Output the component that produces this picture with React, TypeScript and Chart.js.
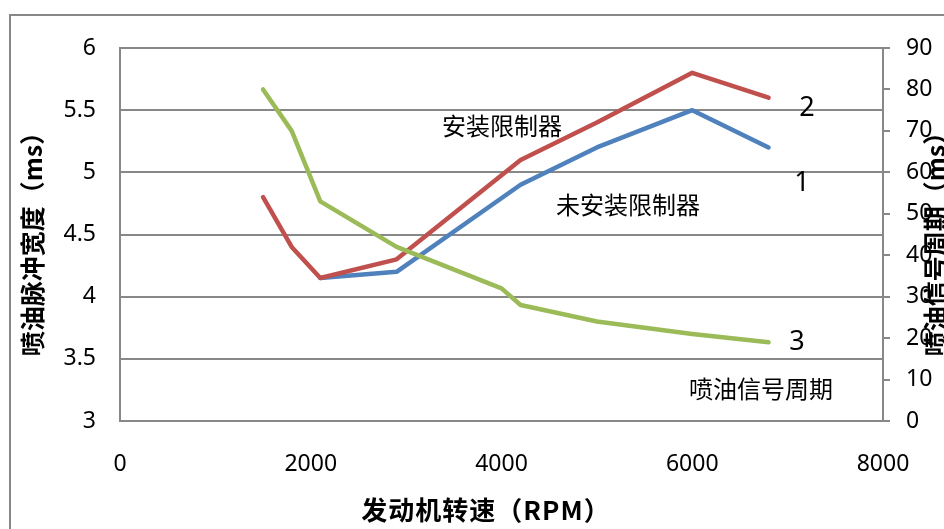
import React, { useEffect, useRef } from "react";
import { Chart, registerables } from "chart.js";

Chart.register(...registerables);

// Series 2: 安装限制器 (left axis, ms)
const withLimiterRpm = [1500, 1800, 2100, 2900, 4200, 5000, 6000, 6800];
const withLimiterMs = [4.8, 4.4, 4.15, 4.3, 5.1, 5.4, 5.8, 5.6];
// Series 1: 未安装限制器 (left axis, ms)
const noLimiterRpm = [2100, 2900, 4200, 5000, 6000, 6800];
const noLimiterMs = [4.15, 4.2, 4.9, 5.2, 5.5, 5.2];
// Series 3: 喷油信号周期 (right axis, ms)
const periodRpm = [1500, 1800, 2100, 2900, 4000, 4200, 5000, 6000, 6800];
const periodMs = [80, 70, 53, 42, 32, 28, 24, 21, 19];

const xTitle = "发动机转速（RPM）";
const yTitle = "喷油脉冲宽度（ms）";
const y1Title = "喷油信号周期（ms）";
const labelWith = "安装限制器";
const labelWithout = "未安装限制器";
const labelPeriod = "喷油信号周期";

const GRAY = "#888888";
const TICK_FONT = { family: "'Noto Sans', 'Noto Sans CJK SC', sans-serif", size: 23 };
const CJK = "'Noto Sans CJK SC', 'Noto Sans', sans-serif";

const toPts = (xs: number[], ys: number[]) => xs.map((x, i) => ({ x, y: ys[i] }));

const overlay = {
  id: "overlay",
  afterDraw(chart: any) {
    const ctx = chart.ctx as any;
    ctx.save();
    // outer frame
    ctx.strokeStyle = GRAY;
    ctx.lineWidth = 2;
    ctx.beginPath();
    ctx.moveTo(10, 529);
    ctx.lineTo(10, 15);
    ctx.lineTo(944, 15);
    ctx.stroke();

    ctx.fillStyle = "#000";
    ctx.textAlign = "center";
    ctx.textBaseline = "middle";
    // x title
    ctx.font = `bold 26px ${CJK}`;
    ctx.letterSpacing = "1px";
    ctx.fillText(xTitle, 486, 510);
    ctx.letterSpacing = "0px";
    // left title
    const midY = 238;
    ctx.font = `bold 25px ${CJK}`;
    ctx.save();
    ctx.translate(32, midY);
    ctx.rotate(-Math.PI / 2);
    ctx.fillText(yTitle, 0, 0);
    ctx.restore();
    // right title
    ctx.save();
    ctx.translate(935, midY);
    ctx.rotate(-Math.PI / 2);
    ctx.fillText(y1Title, 0, 0);
    ctx.restore();

    // annotations
    ctx.font = `24px ${CJK}`;
    ctx.fillText(labelWith, 502, 126);
    ctx.fillText(labelWithout, 628, 205);
    ctx.fillText(labelPeriod, 761, 389);
    ctx.font = `27px 'Noto Sans', sans-serif`;
    ctx.fillText("2", 807, 108);
    ctx.fillText("1", 802, 183);
    ctx.fillText("3", 797, 342);
    ctx.restore();
  },
};

export default function App() {
  const ref = useRef<HTMLCanvasElement | null>(null);
  useEffect(() => {
    if (!ref.current) return;
    const common = {
      borderWidth: 4.5,
      pointRadius: 0,
      tension: 0,
      borderCapStyle: "round",
      borderJoinStyle: "round",
    };
    const chart = new Chart(ref.current, {
      type: "line",
      data: {
        datasets: [
          {
            ...common,
            label: labelPeriod,
            data: toPts(periodRpm, periodMs),
            yAxisID: "y1",
            borderColor: "#9BBB59",
          },
          {
            ...common,
            label: labelWith,
            data: toPts(withLimiterRpm, withLimiterMs),
            yAxisID: "y",
            borderColor: "#C0504D",
          },
          {
            ...common,
            label: labelWithout,
            data: toPts(noLimiterRpm, noLimiterMs),
            yAxisID: "y",
            borderColor: "#4F81BD",
          },
        ],
      },
      options: {
        responsive: false,
        animation: false,
        layout: { padding: { top: 48, left: 0, right: 0, bottom: 0 } },
        plugins: { legend: { display: false }, tooltip: { enabled: false } },
        scales: {
          x: {
            type: "linear",
            min: 0,
            max: 8000,
            ticks: {
              stepSize: 2000,
              padding: 30,
              color: "#000",
              font: TICK_FONT,
              callback: (v: any) => String(v),
            },
            grid: { display: false, drawTicks: false },
            border: { display: true, color: GRAY, width: 2 },
            afterFit: (s: any) => {
              s.height = 108;
            },
          },
          y: {
            position: "left",
            min: 3,
            max: 6,
            ticks: {
              stepSize: 0.5,
              padding: 24,
              color: "#000",
              font: TICK_FONT,
              callback: (v: any) => String(v),
            },
            grid: { color: GRAY, lineWidth: 2, drawTicks: false },
            border: { display: true, color: GRAY, width: 2 },
            afterFit: (s: any) => {
              s.width = 120;
            },
          },
          y1: {
            position: "right",
            min: 0,
            max: 90,
            ticks: {
              stepSize: 10,
              padding: 16,
              color: "#000",
              font: TICK_FONT,
              callback: (v: any) => String(v),
            },
            grid: { drawOnChartArea: false, drawTicks: true, tickLength: 7, color: GRAY, lineWidth: 2 },
            border: { display: true, color: GRAY, width: 2 },
            afterFit: (s: any) => {
              s.width = 61;
            },
          },
        },
      } as any,
      plugins: [overlay],
    });
    return () => chart.destroy();
  }, []);
  return (
    <div style={{ position: "fixed", left: 0, top: 0, width: 944, height: 529, background: "#fff" }}>
      <canvas ref={ref} width={944} height={529} style={{ display: "block" }} />
    </div>
  );
}
